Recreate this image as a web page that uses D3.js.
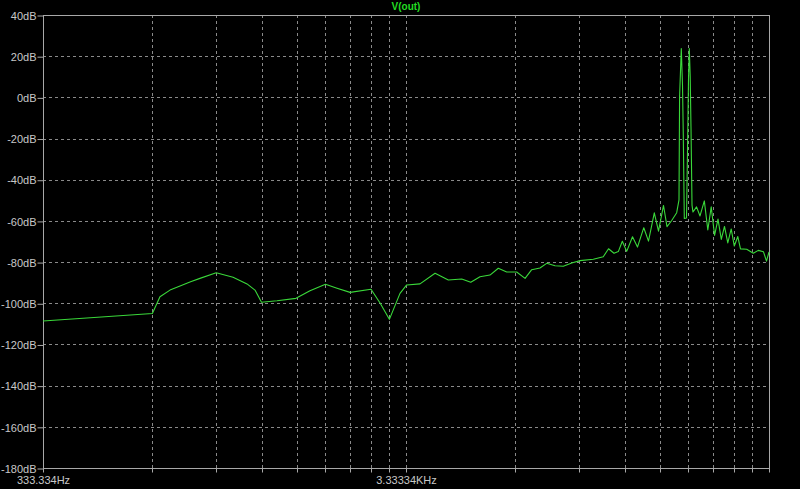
<!DOCTYPE html>
<html>
<head>
<meta charset="utf-8">
<script src="https://cdn.jsdelivr.net/npm/d3@7"></script>
<style>
  html, body { margin: 0; padding: 0; background: #000; }
  svg { display: block; }
</style>
</head>
<body>
<svg id="chart" width="800" height="489"></svg>
<script>
// ---- Data ----
const traceName = "V(out)";
const freqHz = [333.334, 667, 700, 746, 795, 850, 902, 1000, 1113, 1216, 1279, 1333, 1471, 1659, 1813, 2000, 2152, 2338, 2670, 2830, 3000, 3209, 3348, 3643, 4008, 4360, 4747, 5027, 5330, 5678, 5986, 6314, 6727, 7093, 7400, 7797, 8137, 8577, 9040, 9537, 10054, 10937, 11650, 12046, 12471, 12817, 13146, 13517, 14024, 14473, 15064, 15520, 16103, 16537, 17073, 17454, 17983, 18561, 18834, 18904, 19110, 19256, 19354, 19480, 19751, 19880, 20004, 20106, 20221, 20323, 20455, 20580, 21050, 21520, 22117, 22610, 23104, 23603, 24120, 24630, 25133, 25664, 26227, 26747, 27346, 27820, 28937, 30170, 31143, 32187, 32807, 33333.4];
const magDB = [-108.6, -105.0, -96.8, -93.6, -91.6, -89.5, -87.9, -85.2, -87.4, -90.6, -93.6, -99.5, -98.8, -97.6, -93.9, -90.8, -92.7, -94.7, -93.2, -100.0, -107.8, -95.2, -91.1, -90.6, -85.4, -88.7, -88.2, -89.8, -87.1, -86.3, -83.0, -84.8, -84.8, -87.9, -83.7, -82.9, -80.6, -81.8, -82.0, -80.4, -79.3, -78.6, -77.4, -73.5, -75.7, -74.9, -69.9, -74.8, -67.7, -72.7, -63.3, -69.8, -56.1, -65.0, -52.5, -62.8, -59.8, -56.0, -49.8, 0.2, 23.7, 6.0, -18.3, -58.8, -58.6, -25.6, 8.4, 23.7, 10.4, -14.4, -52.3, -55.7, -53.2, -57.6, -50.3, -64.4, -53.2, -67.0, -59.1, -69.0, -62.7, -70.7, -63.9, -72.2, -67.6, -73.6, -73.8, -75.7, -74.3, -75.0, -79.5, -75.1];
const yTicks = [40, 20, 0, -20, -40, -60, -80, -100, -120, -140, -160, -180];
const xGridHz = [333.334, 666.668, 1000.002, 1333.336, 1666.67, 2000.004, 2333.338, 2666.672, 3000.006, 3333.34, 6666.68, 10000.02, 13333.36, 16666.7, 20000.04, 23333.38, 26666.72, 30000.06, 33333.4];
const xLabelHz = [333.334, 3333.34];
const xLabelText = ["333.334Hz", "3.33334KHz"];

// ---- Layout ----
const L = 43, R = 769, T = 15, B = 468;
const svg = d3.select("#chart");
svg.append("rect").attr("width", 800).attr("height", 489).attr("fill", "#000");

const x = d3.scaleLog().domain([333.334, 33333.4]).range([L, R]);
const y = d3.scaleLinear().domain([-180, 40]).range([B, T]);

const gridColor = "#8a8a8a";
const frameColor = "#a8a8a8";
const textColor = "#c8c8c8";
const font = "Liberation Sans, Arial, sans-serif";

// Grid
const grid = svg.append("g");
grid.selectAll("line.vg").data(xGridHz.slice(1, -1)).join("line")
  .attr("x1", d => Math.round(x(d)) + 0.5).attr("x2", d => Math.round(x(d)) + 0.5)
  .attr("y1", T).attr("y2", B)
  .attr("stroke", gridColor).attr("stroke-dasharray", "3,3").attr("stroke-width", 1);
grid.selectAll("line.hg").data(yTicks.slice(1, -1)).join("line")
  .attr("x1", L).attr("x2", R)
  .attr("y1", d => Math.round(y(d)) + 0.5).attr("y2", d => Math.round(y(d)) + 0.5)
  .attr("stroke", gridColor).attr("stroke-dasharray", "3,3").attr("stroke-width", 1);

// Frame
svg.append("rect").attr("x", L + 0.5).attr("y", T + 0.5)
  .attr("width", R - L).attr("height", B - T)
  .attr("fill", "none").attr("stroke", frameColor).attr("stroke-width", 1);

// Y axis
const yAxis = d3.axisLeft(y).tickValues(yTicks).tickSize(6).tickSizeOuter(0)
  .tickFormat(d => d + "dB");
const gy = svg.append("g").attr("transform", `translate(${L + 0.5},0.5)`).call(yAxis);
gy.select(".domain").remove();
gy.selectAll(".tick line").attr("stroke", frameColor);
gy.selectAll(".tick text").attr("fill", textColor).attr("font-family", font)
  .attr("font-size", 11).attr("x", -7).attr("dy", "0.34em");

// X axis
const xAxis = d3.axisBottom(x).tickValues(xGridHz).tickSize(4).tickSizeOuter(0)
  .tickFormat(d => { const i = xLabelHz.indexOf(d); return i >= 0 ? xLabelText[i] : ""; });
const gx = svg.append("g").attr("transform", `translate(0.5,${B + 0.5})`).call(xAxis);
gx.select(".domain").remove();
gx.selectAll(".tick").attr("transform", d => `translate(${Math.round(x(d))},0)`);
gx.selectAll(".tick line").attr("stroke", frameColor);
gx.selectAll(".tick text").attr("fill", textColor).attr("font-family", font)
  .attr("font-size", 11).attr("y", 8).attr("dy", "0.71em");

// Title
svg.append("text").attr("x", 406).attr("y", 10).attr("text-anchor", "middle")
  .attr("fill", "#22dd22").attr("font-family", font).attr("font-weight", "bold")
  .attr("font-size", 10).text(traceName);

// Trace
const pts = freqHz.map((f, i) => [f, magDB[i]]);
const line = d3.line().x(d => x(d[0])).y(d => y(d[1]));
svg.append("path").datum(pts).attr("d", line)
  .attr("fill", "none").attr("stroke", "#3ad83a").attr("stroke-width", 1.1)
  .attr("stroke-linejoin", "round");
</script>
</body>
</html>
